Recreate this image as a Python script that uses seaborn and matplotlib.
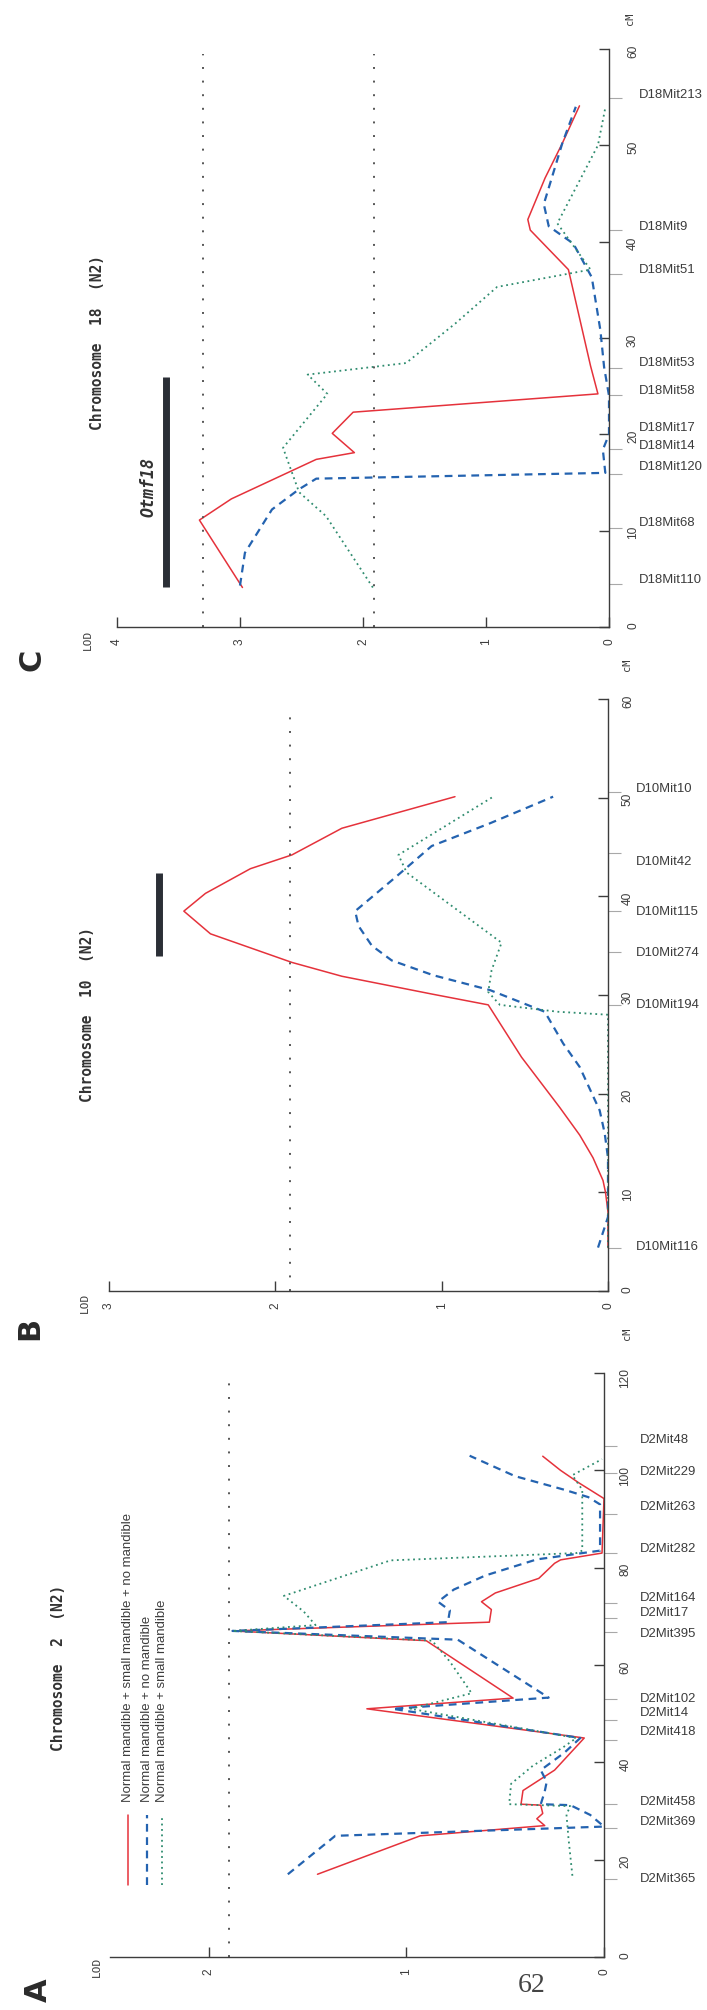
import matplotlib
matplotlib.use("Agg")
import matplotlib.pyplot as plt
from matplotlib import font_manager
import seaborn as sns

# ---------------------------------------------------------------- data
# Chromosome 2
A_markers = ["D2Mit365", "D2Mit369", "D2Mit458", "D2Mit418", "D2Mit14", "D2Mit102",
             "D2Mit395", "D2Mit17", "D2Mit164", "D2Mit282", "D2Mit263", "D2Mit229", "D2Mit48"]
A_marker_cm = [16.0, 26.5, 31.4, 44.5, 48.7, 53.0, 66.8, 69.7, 72.8, 83.1, 91.1, 99.4, 105.0]
A_label_cm = [16.1, 27.8, 31.8, 46.2, 50.1, 53.0, 66.4, 70.7, 73.8, 83.9, 92.4, 99.6, 106.2]

A_all_cm = [17.0, 24.9, 27.0, 28.4, 29.5, 31.2, 31.4, 34.2, 38.4, 45.0, 51.0, 53.2, 65.0,
            67.0, 68.8, 71.4, 73.0, 74.8, 77.8, 80.9, 81.6, 83.0, 94.2, 97.5, 100.0, 102.9]
A_all_lod = [1.45, 0.93, 0.30, 0.34, 0.31, 0.32, 0.42, 0.41, 0.25, 0.10, 1.20, 0.46, 0.90,
             1.88, 0.58, 0.57, 0.62, 0.55, 0.33, 0.25, 0.22, 0.01, 0.00, 0.13, 0.22, 0.31]

A_nomand_cm = [17.0, 24.9, 26.8, 29.2, 31.2, 31.4, 34.0, 36.0, 38.4, 42.0, 45.0, 51.0, 53.3,
               65.2, 67.0, 68.8, 71.2, 73.0, 75.5, 78.4, 81.7, 83.5, 93.0, 94.5, 96.0, 98.8, 103.0]
A_nomand_lod = [1.60, 1.36, 0.00, 0.07, 0.17, 0.32, 0.30, 0.29, 0.32, 0.20, 0.12, 1.07, 0.28,
                0.74, 1.88, 0.79, 0.78, 0.84, 0.76, 0.60, 0.34, 0.02, 0.02, 0.08, 0.20, 0.45, 0.68]

A_small_cm = [16.7, 24.5, 29.3, 31.0, 31.4, 35.6, 39.3, 43.0, 45.0, 51.0, 54.2, 60.7, 65.0,
              67.0, 68.2, 71.0, 74.2, 81.5, 83.0, 83.5, 91.5, 96.0, 99.0, 102.3]
A_small_lod = [0.16, 0.18, 0.19, 0.17, 0.48, 0.47, 0.36, 0.21, 0.14, 0.98, 0.67, 0.78, 0.87,
               1.88, 1.46, 1.52, 1.62, 1.08, 0.14, 0.11, 0.11, 0.11, 0.16, 0.01]
A_threshold = [1.90]

# Chromosome 10
B_markers = ["D10Mit116", "D10Mit194", "D10Mit274", "D10Mit115", "D10Mit42", "D10Mit10"]
B_marker_cm = [4.4, 29.0, 34.4, 38.5, 44.4, 50.6]
B_label_cm = [4.5, 29.0, 34.3, 38.4, 43.5, 50.9]

B_all_cm = [4.4, 8.0, 10.0, 11.2, 13.5, 15.8, 18.6, 23.7, 29.0, 30.1, 31.9, 33.3, 36.2,
            38.5, 40.3, 42.8, 44.2, 46.9, 50.1]
B_all_lod = [0.00, 0.00, 0.015, 0.03, 0.09, 0.17, 0.29, 0.52, 0.72, 1.06, 1.60, 1.90, 2.39,
             2.55, 2.42, 2.15, 1.90, 1.60, 0.92]

B_nomand_cm = [4.4, 7.5, 13.5, 16.0, 18.3, 22.7, 25.1, 28.3, 30.5, 32.0, 33.5, 35.0, 37.0,
               38.5, 41.9, 45.1, 47.4, 50.1]
B_nomand_lod = [0.06, 0.00, 0.00, 0.02, 0.05, 0.17, 0.27, 0.38, 0.71, 1.05, 1.30, 1.42, 1.50,
                1.52, 1.28, 1.06, 0.71, 0.33]

B_small_cm = [4.4, 28.0, 28.3, 29.0, 30.3, 32.5, 35.3, 42.4, 44.2, 50.1]
B_small_lod = [0.00, 0.00, 0.30, 0.65, 0.72, 0.70, 0.64, 1.21, 1.26, 0.69]
B_threshold = [1.91]
B_qtl = [34.0, 42.4]

# Chromosome 18
C_markers = ["D18Mit110", "D18Mit68", "D18Mit120", "D18Mit14", "D18Mit17", "D18Mit58",
             "D18Mit53", "D18Mit51", "D18Mit9", "D18Mit213"]
C_marker_cm = [4.5, 10.3, 15.9, 18.5, 20.0, 24.1, 26.9, 36.6, 41.2, 54.9]
C_label_cm = [4.9, 10.8, 16.6, 18.8, 20.7, 24.5, 27.4, 37.1, 41.5, 55.2]

C_all_cm = [4.1, 11.1, 13.3, 17.4, 18.1, 20.1, 22.3, 24.2, 27.1, 37.1, 41.2, 42.3, 46.6, 50.2, 54.1]
C_all_lod = [2.98, 3.33, 3.07, 2.38, 2.07, 2.25, 2.08, 0.09, 0.15, 0.33, 0.64, 0.66, 0.52, 0.38, 0.24]

C_nomand_cm = [4.3, 7.7, 12.2, 14.3, 15.4, 16.0, 18.4, 20.0, 24.0, 27.0, 30.8, 36.3, 39.8,
               41.6, 43.9, 50.2, 54.0]
C_nomand_lod = [3.00, 2.96, 2.74, 2.52, 2.38, 0.03, 0.05, 0.00, 0.00, 0.04, 0.07, 0.14, 0.29,
                0.49, 0.53, 0.38, 0.27]

C_small_cm = [4.1, 11.5, 14.0, 18.6, 24.2, 26.2, 27.4, 31.5, 35.3, 37.1, 41.9, 50.0, 53.9]
C_small_lod = [1.92, 2.30, 2.52, 2.65, 2.29, 2.45, 1.65, 1.25, 0.91, 0.15, 0.42, 0.09, 0.03]
C_threshold = [3.30, 1.91]
C_qtl = [4.2, 26.0]

legend_labels = ["Normal mandible + small mandible + no mandible",
                 "Normal mandible + no mandible",
                 "Normal mandible + small mandible"]

# ---------------------------------------------------------------- style
installed = {f.name for f in font_manager.fontManager.ttflist}
NARROW = "Liberation Sans Narrow" if "Liberation Sans Narrow" in installed else "Liberation Sans"
SCALE = 1.0 if NARROW == "Liberation Sans Narrow" else 0.9
MONO = "DejaVu Sans Mono"

sns.set_theme(style="white")
plt.rcParams["font.family"] = [NARROW, "DejaVu Sans"]

RED = "#e5323b"
BLUE = "#2463b0"
GREEN = "#2f8c6f"
INK = "#3c3c3c"
DOT = "#555555"

W, H = 707, 2010
fig = plt.figure(figsize=(W / 100, H / 100), dpi=100)
fig.patch.set_facecolor("white")

SERIES_STYLE = [
    dict(color=RED, linestyle="-", lw=1.1),
    dict(color=BLUE, linestyle=(0, (3.5, 2.5)), lw=1.6),
    dict(color=GREEN, linestyle=(0, (1, 2)), lw=1.3),
]

LABEL_SIZE = 10.5 * SCALE
TICK_SIZE = 9.5 * SCALE


def make_panel(px_left, px_right, px_top, px_bottom, lod_max, cm_max, cm_step, lod_ticks,
               series, markers, marker_cm, label_cm, label_px, thresholds, thr_end,
               tick_pad):
    ax = fig.add_axes([px_left / W, 1 - px_bottom / H,
                       (px_right - px_left) / W, (px_bottom - px_top) / H])
    ax.set_facecolor("none")
    for (cm, lod), st in zip(series, SERIES_STYLE):
        sns.lineplot(x=lod, y=cm, sort=False, estimator=None, orient="y", ax=ax,
                     color=st["color"], linestyle=st["linestyle"], lw=st["lw"])
    for t in thresholds:
        ax.plot([t, t], [0, thr_end], color=DOT, lw=1.4, linestyle=(0, (1, 6)))
    ax.set_xlim(lod_max, 0)
    ax.set_ylim(0, cm_max)
    ax.set_xlabel("")
    ax.set_ylabel("")
    for side in ("left", "top"):
        ax.spines[side].set_visible(False)
    for side in ("right", "bottom"):
        ax.spines[side].set_color(INK)
        ax.spines[side].set_linewidth(1.0)
    ax.set_xticks(lod_ticks)
    ax.set_xticklabels([str(v) for v in lod_ticks])
    cm_ticks = list(range(0, cm_max + 1, cm_step))
    ax.set_yticks(cm_ticks)
    ax.set_yticklabels([str(v) for v in cm_ticks])
    ax.set_yticks(marker_cm, minor=True)
    ax.tick_params(axis="x", which="major", bottom=True, top=False, direction="in",
                   length=7, width=1, color=INK, labelcolor=INK, labelsize=TICK_SIZE,
                   labelrotation=90, pad=8)
    ax.tick_params(axis="y", which="major", left=False, right=True, labelleft=False,
                   labelright=True, direction="in", length=7, width=1, color=INK,
                   labelcolor=INK, labelsize=TICK_SIZE, labelrotation=90, pad=tick_pad)
    ax.tick_params(axis="y", which="minor", left=False, right=True, direction="out",
                   length=9, width=0.8, color="#a8a8a8")
    ax.grid(False)
    xa = (label_px - px_left) / (px_right - px_left)
    for name, y in zip(markers, label_cm):
        ax.text(xa, y, name, transform=ax.get_yaxis_transform(), ha="left", va="center",
                fontsize=LABEL_SIZE, color=INK)
    return ax


axA = make_panel(110, 604, 1373, 1957, 2.5, 120, 20, [0, 1, 2],
                 [(A_all_cm, A_all_lod), (A_nomand_cm, A_nomand_lod), (A_small_cm, A_small_lod)],
                 A_markers, A_marker_cm, A_label_cm, 640, A_threshold, 118.5, 11)
axB = make_panel(109, 608, 699, 1291, 3, 60, 10, [0, 1, 2, 3],
                 [(B_all_cm, B_all_lod), (B_nomand_cm, B_nomand_lod), (B_small_cm, B_small_lod)],
                 B_markers, B_marker_cm, B_label_cm, 636, B_threshold, 59.2, 10)
axC = make_panel(117, 609, 49, 627, 4, 60, 10, [0, 1, 2, 3, 4],
                 [(C_all_cm, C_all_lod), (C_nomand_cm, C_nomand_lod), (C_small_cm, C_small_lod)],
                 C_markers, C_marker_cm, C_label_cm, 639, C_threshold, 59.5, 13)

# QTL intervals
axB.plot([2.70, 2.70], B_qtl, color="#2b2f36", lw=5, solid_capstyle="butt")
axC.plot([3.60, 3.60], C_qtl, color="#2b2f36", lw=5, solid_capstyle="butt")
axC.text(3.74, sum(C_qtl) / 2 - 0.6, "Otmf18", rotation=90, ha="center", va="center",
         family=MONO, style="italic", weight="bold", fontsize=12, color="#333333")


def ftext(px, py, s, **kw):
    fig.text(px / W, 1 - py / H, s, **kw)


# titles
for px, py, s in [(59, 1668, "Chromosome  2  (N2)"),
                  (88, 1014, "Chromosome  10  (N2)"),
                  (97, 343, "Chromosome  18  (N2)")]:
    ftext(px, py, s, rotation=90, ha="center", va="center", family=MONO,
          weight="bold", fontsize=10.5, color="#333333")

# axis names
for px, py in [(97, 1967), (85, 1303), (88, 640)]:
    ftext(px, py, "LOD", rotation=90, ha="center", va="center", family=MONO,
          fontsize=8, color=INK)
for px, py in [(627, 1334), (627, 665), (630, 19)]:
    ftext(px, py, "cM", rotation=90, ha="center", va="center", family=MONO,
          fontsize=7.5, color=INK)

# panel letters
for px, py, s in [(38, 1990, "A"), (30, 1328, "B"), (32, 660, "C")]:
    ftext(px, py, s, rotation=90, ha="center", va="center", fontsize=22,
          weight="bold", family="DejaVu Sans", color="#2a2a2a")

# legend for chromosome 2 (drawn vertically)
for px, lab, st in zip([128, 147, 162], legend_labels, SERIES_STYLE):
    fig.add_artist(plt.Line2D([px / W, px / W], [1 - 1885 / H, 1 - 1815 / H],
                              transform=fig.transFigure, color=st["color"],
                              linestyle=st["linestyle"], lw=st["lw"]))
    ftext(px, 1802, lab, rotation=90, ha="center", va="bottom",
          fontsize=10.5 * SCALE, color=INK)

# page number
ftext(532, 1985, "62", ha="center", va="center", family="Liberation Serif",
      fontsize=20, color="#444444")

fig.savefig("out.png", dpi=100, facecolor="white")
